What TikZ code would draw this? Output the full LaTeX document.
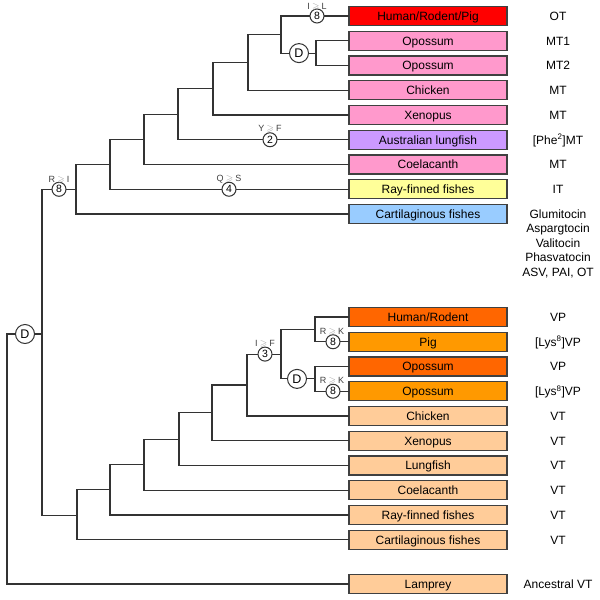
\documentclass[tikz,border=0pt]{standalone}
\usepackage{fontspec}
\setmainfont{Liberation Sans}
\usepackage{amssymb}
\definecolor{cRed}{HTML}{FF0000}
\definecolor{cPink}{HTML}{FF99CC}
\definecolor{cPurple}{HTML}{CC99FF}
\definecolor{cYellow}{HTML}{FFFF99}
\definecolor{cBlue}{HTML}{99CCFF}
\definecolor{cVP}{HTML}{FF6600}
\definecolor{cLys}{HTML}{FF9900}
\definecolor{cPeach}{HTML}{FFCC99}
\definecolor{treeline}{HTML}{333333}
\newcommand\gsym{\hspace{2.2pt}{\color{black!40}\fontsize{9.5}{11}\selectfont$\geqslant$}\hspace{2.2pt}}
\begin{document}
\begin{tikzpicture}[x=1pt,y=-1pt,
  box/.style={draw=black!75, line width=1.3pt, minimum width=158pt, minimum height=19pt,
    inner sep=0pt, text height=8.6pt, text depth=0pt, font=\fontsize{12}{14}\selectfont},
  lab/.style={inner sep=0pt, text height=8.6pt, text depth=0pt, font=\fontsize{12}{14}\selectfont},
  mut/.style={circle, draw=treeline, line width=1pt, minimum size=14pt, inner sep=0pt,
    fill=white, font=\fontsize{10.5}{12}\selectfont},
  dup/.style={circle, draw=treeline, line width=1pt, minimum size=19pt, inner sep=0pt,
    fill=white, font=\fontsize{12.5}{14}\selectfont},
  sub/.style={inner sep=0pt, text height=6.5pt, text depth=0pt, text=black!75, font=\fontsize{9}{10}\selectfont},
  br/.style={draw=treeline, line width=1.1pt, line cap=rect}]
\useasboundingbox (0,0) rectangle (600,600);

% ---------- top boxes ----------
\node[box, fill=cRed]    (t1) at (428,16)     {Human/Rodent/Pig};
\node[box, fill=cPink]   (t2) at (428,40.75)  {Opossum};
\node[box, fill=cPink]   (t3) at (428,65.5)   {Opossum};
\node[box, fill=cPink]   (t4) at (428,90.25)  {Chicken};
\node[box, fill=cPink]   (t5) at (428,115)    {Xenopus};
\node[box, fill=cPurple] (t6) at (428,139.75) {Australian lungfish};
\node[box, fill=cPink]   (t7) at (428,164.5)  {Coelacanth};
\node[box, fill=cYellow] (t8) at (428,189.25) {Ray-finned fishes};
\node[box, fill=cBlue]   (t9) at (428,214)    {Cartilaginous fishes};

\node[lab] (r1) at (558,16)     {OT};
\node[lab] (r2) at (558,40.75)  {MT1};
\node[lab] (r3) at (558,65.5)   {MT2};
\node[lab] (r4) at (558,90.25)  {MT};
\node[lab] (r5) at (558,115)    {MT};
\node[lab] (r6) at (558,139.75) {[Phe\textsuperscript{2}]MT};
\node[lab] (r7) at (558,164.5)  {MT};
\node[lab] (r8) at (558,189.25) {IT};
\node[inner sep=0pt, anchor=base] (r9) at (558,218.3)
  {\fontsize{12}{14.5}\selectfont\begin{tabular}[t]{@{}c@{}}Glumitocin\\Aspargtocin\\Valitocin\\Phasvatocin\\ASV, PAI, OT\end{tabular}};

% ---------- bottom boxes ----------
\node[box, fill=cVP]    (v1) at (428,317)    {Human/Rodent};
\node[box, fill=cLys]   (v2) at (428,341.75) {Pig};
\node[box, fill=cVP]    (v3) at (428,366.5)  {Opossum};
\node[box, fill=cLys]   (v4) at (428,391.25) {Opossum};
\node[box, fill=cPeach] (v5) at (428,416)    {Chicken};
\node[box, fill=cPeach] (v6) at (428,440.75) {Xenopus};
\node[box, fill=cPeach] (v7) at (428,465.5)  {Lungfish};
\node[box, fill=cPeach] (v8) at (428,490.25) {Coelacanth};
\node[box, fill=cPeach] (v9) at (428,515)    {Ray-finned fishes};
\node[box, fill=cPeach] (v10) at (428,539.75) {Cartilaginous fishes};
\node[box, fill=cPeach] (lam) at (428,584)   {Lamprey};

\node[lab] (s1) at (558,317)    {VP};
\node[lab] (s2) at (558,341.75) {[Lys\textsuperscript{8}]VP};
\node[lab] (s3) at (558,366.5)  {VP};
\node[lab] (s4) at (558,391.25) {[Lys\textsuperscript{8}]VP};
\node[lab] (s5) at (558,416)    {VT};
\node[lab] (s6) at (558,440.75) {VT};
\node[lab] (s7) at (558,465.5)  {VT};
\node[lab] (s8) at (558,490.25) {VT};
\node[lab] (s9) at (558,515)    {VT};
\node[lab] (s10) at (558,539.75) {VT};
\node[lab] (s11) at (558,584)   {Ancestral VT};

% ---------- top tree ----------
\coordinate (a316) at (316,53.1);
\coordinate (a281) at (281,34.5);
\coordinate (a248) at (248,62.4);
\coordinate (a213) at (213,88.7);
\coordinate (a178) at (178,114.2);
\coordinate (a144) at (144,139.4);
\coordinate (a110) at (110,164.3);
\coordinate (a76)  at (76,189.3);
\node[dup] (dA) at (299,53.1) {D};
\node[mut] (cIL) at (317,16) {8};
\node[mut] (cYF) at (270,139.75) {2};
\node[mut] (cQS) at (229,189.25) {4};
\node[mut] (cRI) at (59,189.3) {8};
\node[sub] (lIL) at (317,6.2)   {I\gsym L};
\node[sub] (lYF) at (270,128.5) {Y\gsym F};
\node[sub] (lQS) at (229,178.5) {Q\gsym S};
\node[sub] (lRI) at (59,179) {R\gsym I};

\draw[br] (a281) |- (cIL) -- (t1);
\draw[br] (a281) |- (dA) -- (a316);
\draw[br] (a316) |- (t2);
\draw[br] (a316) |- (t3);
\draw[br] (a248) |- (a281);
\draw[br] (a248) |- (t4);
\draw[br] (a213) |- (a248);
\draw[br] (a213) |- (t5);
\draw[br] (a178) |- (a213);
\draw[br] (a178) |- (cYF) -- (t6);
\draw[br] (a144) |- (a178);
\draw[br] (a144) |- (t7);
\draw[br] (a110) |- (a144);
\draw[br] (a110) |- (cQS) -- (t8);
\draw[br] (a76) |- (a110);
\draw[br] (a76) |- (t9);

% ---------- bottom tree ----------
\coordinate (b315u) at (315,329.4);
\coordinate (b315l) at (315,378.9);
\coordinate (b281) at (281,354.1);
\coordinate (b247) at (247,385);
\coordinate (b212) at (212,412.9);
\coordinate (b179) at (179,439.2);
\coordinate (b144) at (144,464.7);
\coordinate (b110) at (110,489.9);
\coordinate (b77)  at (77,515.2);
\node[mut] (cRK1) at (333,341.75) {8};
\node[mut] (cRK2) at (333,391.25) {8};
\node[dup] (dB) at (297,378.9) {D};
\node[mut] (cIF) at (265,354.1) {3};
\node[sub] (lRK1) at (332,331) {R\gsym K};
\node[sub] (lRK2) at (332,380.5) {R\gsym K};
\node[sub] (lIF) at (265,343.5) {I\gsym F};

\draw[br] (b315u) |- (v1);
\draw[br] (b315u) |- (cRK1) -- (v2);
\draw[br] (b315l) |- (v3);
\draw[br] (b315l) |- (cRK2) -- (v4);
\draw[br] (b281) |- (b315u);
\draw[br] (b281) |- (dB) -- (b315l);
\draw[br] (b247) |- (cIF) -- (b281);
\draw[br] (b247) |- (v5);
\draw[br] (b212) |- (b247);
\draw[br] (b212) |- (v6);
\draw[br] (b179) |- (b212);
\draw[br] (b179) |- (v7);
\draw[br] (b144) |- (b179);
\draw[br] (b144) |- (v8);
\draw[br] (b110) |- (b144);
\draw[br] (b110) |- (v9);
\draw[br] (b77) |- (b110);
\draw[br] (b77) |- (v10);

% ---------- root ----------
\coordinate (n42) at (42,334);
\coordinate (n7) at (7,459);
\node[dup] (dR) at (25,334) {D};
\draw[br] (n42) |- (cRI) -- (a76);
\draw[br] (n42) |- (b77);
\draw[br] (n7) |- (dR) -- (n42);
\draw[br] (n7) |- (lam);
\end{tikzpicture}
\end{document}
